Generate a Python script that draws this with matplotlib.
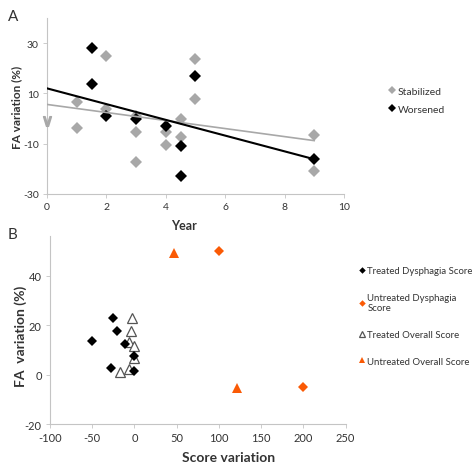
import numpy as np
import matplotlib.pyplot as plt

# panel A: FA variation vs year
stab_year = [1, 1, 2, 2, 3, 3, 3, 4, 4, 4.5, 4.5, 5, 5, 9, 9]
stab_fa = [6.4, -3.8, 24.7, 3.8, 1.0, -5.5, -17.2, -5.5, -10.5, 0.0, -7.5, 23.6, 7.8, -6.6, -20.7]
wors_year = [1.5, 1.5, 2, 3, 4, 4.5, 4.5, 5, 9]
wors_fa = [28.0, 13.7, 1.1, -0.2, -2.8, -10.8, -22.7, 16.8, -16.2]
trend_year = [0, 9]
stab_trend = [5.6, -8.8]
wors_trend = [12.0, -16.2]

# panel B: FA variation vs score variation
td_score = [-50, -25, -21, -11, -28, 0, 0]
td_fa = [13.6, 23.0, 17.6, 12.3, 2.5, 7.4, 1.4]
ud_score = [100, 200]
ud_fa = [49.8, -5.1]
to_score = [-3, -4, -6, 0, 0, -6, -17]
to_fa = [23.0, 17.6, 13.3, 11.7, 6.6, 2.3, 1.2]
uo_score = [47, 122]
uo_fa = [49.3, -5.5]

gray = '#a8a8a8'
orange = '#fa5a05'
spine_col = '#c4c4c4'
txt = '#333333'

plt.rcParams['font.family'] = ['Lato', 'DejaVu Sans']
plt.rcParams['axes.unicode_minus'] = False

fig = plt.figure(figsize=(4.72, 4.64), dpi=100)
axA = fig.add_axes([0.0996, 0.580, 0.629, 0.379])
axB = fig.add_axes([0.106, 0.084, 0.626, 0.405])


def style(ax, fs):
    for s in ['top', 'right']:
        ax.spines[s].set_visible(False)
    for s in ['left', 'bottom']:
        ax.spines[s].set_color(spine_col)
        ax.spines[s].set_linewidth(0.8)
    ax.tick_params(direction='out', length=3, width=0.6, color=spine_col,
                   labelsize=fs, labelcolor=txt, pad=3)


axA.plot(stab_year, stab_fa, 'D', color=gray, ms=6.5, mew=0, label='Stabilized', zorder=2)
axA.plot(wors_year, wors_fa, 'D', color='black', ms=6.5, mew=0, label='Worsened', zorder=3)
axA.plot(trend_year, stab_trend, color=gray, lw=1.2, zorder=4)
axA.plot(trend_year, wors_trend, color='black', lw=1.5, zorder=4)
axA.plot([0], [-1], marker=r'$\vee$', color=gray, ms=7, clip_on=False, zorder=5)
axA.set_xlim(0, 10)
axA.set_ylim(-30, 40)
axA.set_xticks([0, 2, 4, 6, 8, 10])
axA.set_yticks([-30, -10, 10, 30])
style(axA, 7.5)
axA.set_xlabel('Year', fontsize=9, fontweight='bold', color=txt)
axA.xaxis.set_label_coords(0.46, -0.142)
axA.set_ylabel('FA variation (%)', fontsize=8.5, fontweight='bold', color=txt, va='center')
axA.yaxis.set_label_coords(-0.101, 0.5)
axA.legend(loc='upper left', bbox_to_anchor=(1.15, 0.61), frameon=False, fontsize=7.5,
           markerscale=0.6, handlelength=0.6, handletextpad=0.3, labelspacing=0.8,
           borderpad=0, borderaxespad=0, labelcolor=txt)

axB.plot(td_score, td_fa, 'D', color='black', ms=5.5, mew=0, label='Treated Dysphagia Score', zorder=3)
axB.plot(ud_score, ud_fa, 'D', color=orange, ms=5.5, mew=0, label='Untreated Dysphagia\nScore', zorder=3)
axB.plot(to_score, to_fa, '^', mfc='white', mec='#555555', mew=0.9, ms=7, label='Treated Overall Score', zorder=2)
axB.plot(uo_score, uo_fa, '^', color=orange, ms=7.5, mew=0, label='Untreated Overall Score', zorder=3)
axB.set_xlim(-100, 250)
axB.set_ylim(-20, 56)
axB.set_xticks([-100, -50, 0, 50, 100, 150, 200, 250])
axB.set_yticks([-20, 0, 20, 40])
style(axB, 8)
axB.set_xlabel('Score variation', fontsize=10, fontweight='bold', color=txt, va='center')
axB.xaxis.set_label_coords(0.605, -0.174)
axB.set_ylabel('FA  variation (%)', fontsize=10, fontweight='bold', color=txt, va='center')
axB.yaxis.set_label_coords(-0.101, 0.47)
axB.legend(loc='upper left', bbox_to_anchor=(1.045, 0.84), frameon=False, fontsize=6.9,
           markerscale=0.6, handlelength=0.6, handletextpad=0.3, labelspacing=1.85,
           borderpad=0, borderaxespad=0, labelcolor=txt)

fig.text(0.017, 0.978, 'A', fontsize=11, va='top', color=txt)
fig.text(0.017, 0.508, 'B', fontsize=11, va='top', color=txt)

fig.savefig('out.png', dpi=100)
